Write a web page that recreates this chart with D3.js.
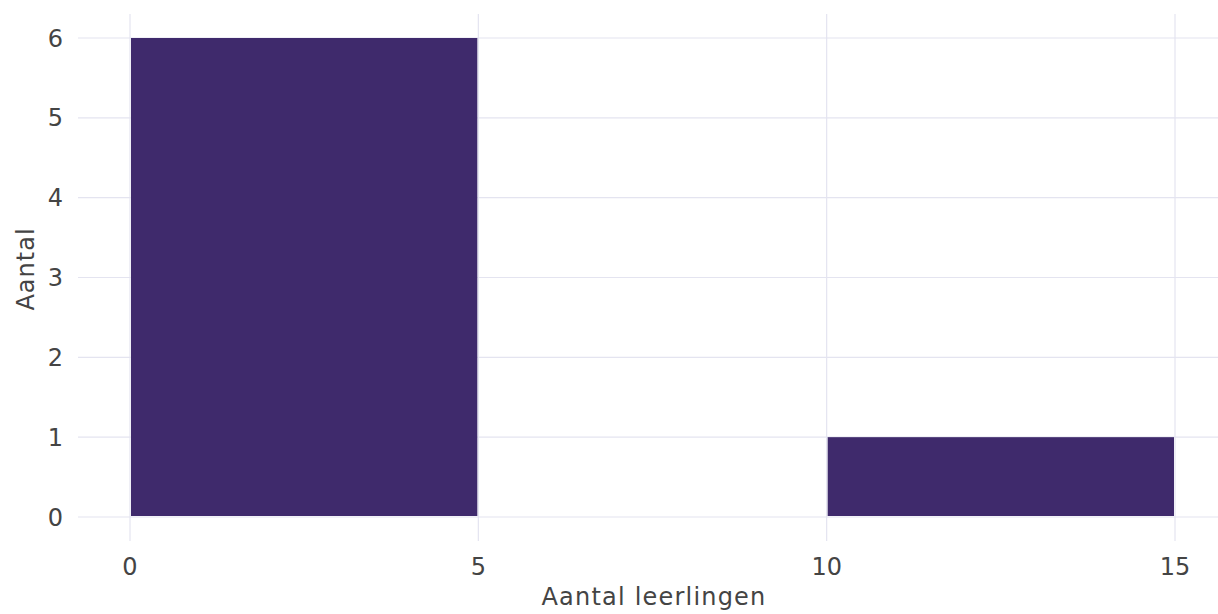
<!DOCTYPE html>
<html><head><meta charset="utf-8">
<script src="https://cdn.jsdelivr.net/npm/d3@7"></script>
<style>body{margin:0;background:#fff}svg{display:block}text{font-family:"DejaVu Sans",sans-serif;fill:#444}</style>
</head><body><svg id="c" width="1218" height="614"></svg>
<script>
const binStarts = [0, 5, 10];
const binEnds = [5, 10, 15];
const counts = [6, 0, 1];
const xTicks = [0, 5, 10, 15];
const yTicks = [0, 1, 2, 3, 4, 5, 6];
const xTitle = "Aantal leerlingen";
const yTitle = "Aantal";

const svg = d3.select("#c");
const L = 78, R = 1218, T = 14, B = 541;
const x = d3.scaleLinear().domain([0, 15]).range([130, 1175]);
const y = d3.scaleLinear().domain([0, 6]).range([517, 38]);
const grid = "#e4e4f0";

svg.append("g").selectAll("line").data(yTicks).join("line")
  .attr("x1", L).attr("x2", R).attr("y1", d => y(d)).attr("y2", d => y(d))
  .attr("stroke", grid).attr("stroke-width", 1.2);
svg.append("g").selectAll("line").data(xTicks).join("line")
  .attr("y1", T).attr("y2", B).attr("x1", d => x(d)).attr("x2", d => x(d))
  .attr("stroke", grid).attr("stroke-width", 1.2);

const bins = counts.map((c, i) => ({a: binStarts[i], b: binEnds[i], c}));
svg.append("g").selectAll("rect").data(bins.filter(d => d.c > 0)).join("rect")
  .attr("x", d => x(d.a) + 1).attr("width", d => x(d.b) - x(d.a) - 2)
  .attr("y", d => y(d.c)).attr("height", d => y(0) - y(d.c) - 1)
  .attr("fill", "#3f2a6c");

svg.append("g").selectAll("text").data(yTicks).join("text")
  .attr("x", 63).attr("y", d => y(d)).attr("dy", "0.36em")
  .attr("text-anchor", "end").attr("font-size", 24).text(d => d);
svg.append("g").selectAll("text").data(xTicks).join("text")
  .attr("x", d => x(d)).attr("y", 575)
  .attr("text-anchor", "middle").attr("font-size", 24).text(d => d);

svg.append("text").attr("x", 654).attr("y", 605)
  .attr("text-anchor", "middle").attr("font-size", 24).attr("letter-spacing", 1.2).text(xTitle);
svg.append("text").attr("transform", `translate(34,269) rotate(-90)`)
  .attr("text-anchor", "middle").attr("font-size", 24).attr("letter-spacing", 1).text(yTitle);
</script></body></html>
